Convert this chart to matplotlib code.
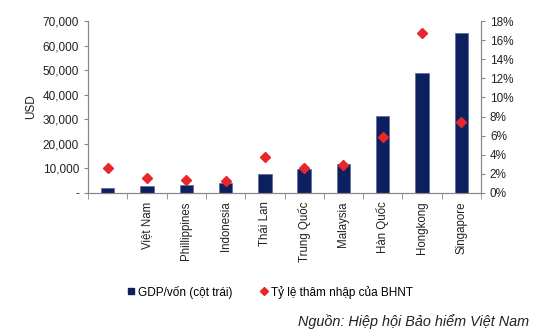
import numpy as np
import matplotlib
matplotlib.use('Agg')
import matplotlib.pyplot as plt
from matplotlib.ticker import FuncFormatter, MultipleLocator

plt.rcParams['font.family'] = ['Liberation Sans', 'DejaVu Sans']

countries = ['', 'Việt Nam', 'Phillippines', 'Indonesia', 'Thái Lan', 'Trung Quốc',
             'Malaysia', 'Hàn Quốc', 'Hongkong', 'Singapore']
gdp = [2050, 2750, 3400, 4000, 7550, 9900, 11700, 31500, 49000, 65300]
penetration = [2.66, 1.61, 1.38, 1.30, 3.78, 2.59, 2.98, 5.88, 16.8, 7.42]

navy = '#0c1f5e'
red = '#e8262b'
grey = '#888888'

fig = plt.figure(figsize=(5.44, 3.35), dpi=100)
ax = fig.add_axes([0.162, 0.424, 0.722, 0.513])
ax2 = ax.twinx()

x = np.arange(len(countries))
ax.bar(x, gdp, width=0.34, color=navy, edgecolor='#5a6a9a', linewidth=0.5,
       label='GDP/vốn (cột trái)', zorder=2)
ax2.plot(x, penetration, linestyle='none', marker='D', markersize=5,
         color=red, label='Tỷ lệ thâm nhập của BHNT', zorder=3)

ax.set_xlim(-0.5, len(countries) - 0.5)
ax.set_ylim(0, 70000)
ax2.set_ylim(0, 18)
ax.yaxis.set_major_locator(MultipleLocator(10000))
ax2.yaxis.set_major_locator(MultipleLocator(2))
ax.yaxis.set_major_formatter(FuncFormatter(lambda v, p: '-' if v == 0 else f'{int(v):,}'))
ax2.yaxis.set_major_formatter(FuncFormatter(lambda v, p: f'{int(round(v))}%'))

# category labels under bars, tick marks between categories
ax.set_xticks(x)
ax.set_xticklabels(countries, rotation=90, fontsize=8.3, color='#222222')
ax.tick_params(axis='x', length=0, pad=6)
ax.set_xticks(np.arange(-0.5, len(countries)), minor=True)
ax.tick_params(axis='x', which='minor', length=4, color=grey, direction='out')

ax.tick_params(axis='y', labelsize=8.5, length=3, color=grey, labelcolor='#222222')
ax2.tick_params(axis='y', labelsize=8.5, length=3, color=grey, labelcolor='#222222')
ax.set_ylabel('USD', fontsize=8.5, color='#222222', labelpad=4)

for a in (ax, ax2):
    a.spines['top'].set_visible(False)
    for s in ('left', 'right', 'bottom'):
        a.spines[s].set_color(grey)
        a.spines[s].set_linewidth(0.8)

h1, l1 = ax.get_legend_handles_labels()
h2, l2 = ax2.get_legend_handles_labels()
h1 = [plt.Line2D([], [], linestyle='none', marker='s', markersize=5, color=navy)]
fig.legend(h1 + h2, l1 + l2, loc='center left', bbox_to_anchor=(0.235, 0.128), ncol=2,
           frameon=False, fontsize=8.5, handlelength=0.6, handletextpad=0.3,
           columnspacing=2.3, markerscale=0.9, borderpad=0, borderaxespad=0)

fig.text(0.972, 0.039, 'Nguồn: Hiệp hội Bảo hiểm Việt Nam', ha='right', va='center',
         fontsize=10.4, style='italic', color='#222222')

fig.savefig('out.png', dpi=100)
